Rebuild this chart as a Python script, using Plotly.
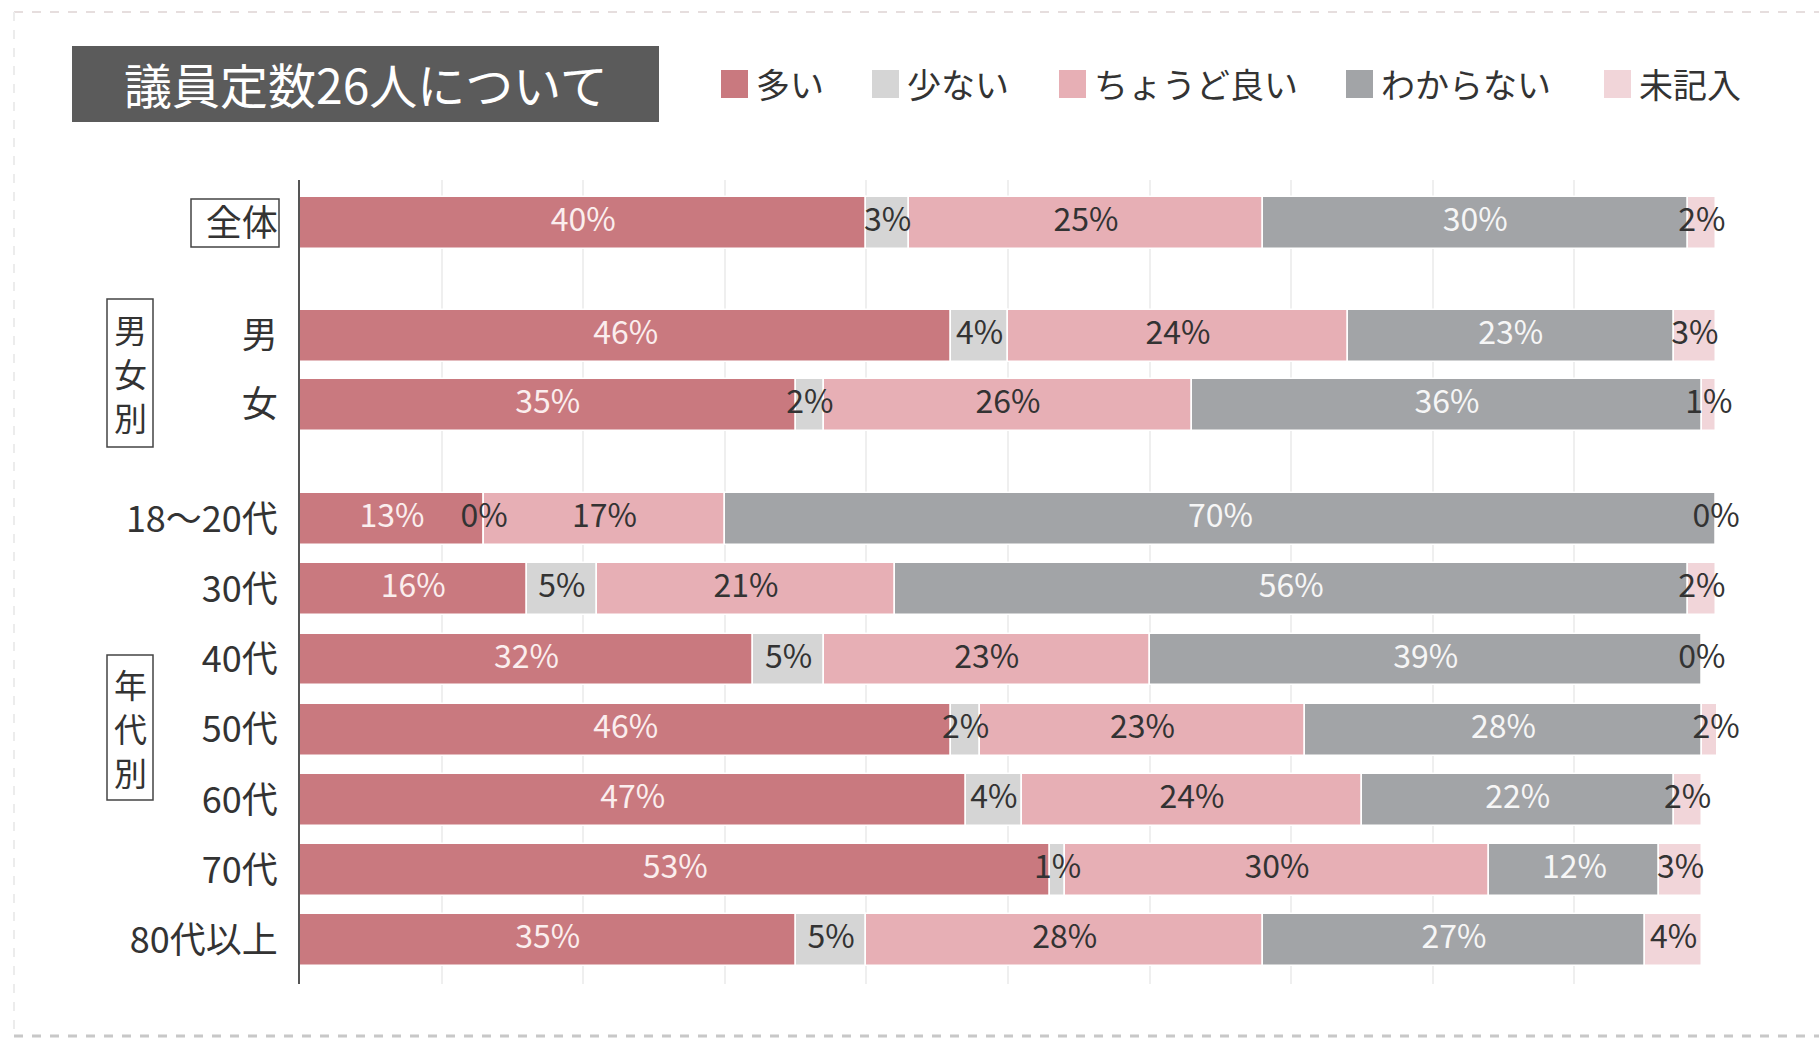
import numpy as np
import plotly.graph_objects as go

# ---------------- data ----------------
categories = ['全体', '男', '女', '18～20代', '30代', '40代', '50代', '60代', '70代', '80代以上']
series_names = ['多い', '少ない', 'ちょうど良い', 'わからない', '未記入']
v_ooi = [40, 46, 35, 13, 16, 32, 46, 47, 53, 35]
v_sukunai = [3, 4, 2, 0, 5, 5, 2, 4, 1, 5]
v_choudo = [25, 24, 26, 17, 21, 23, 23, 24, 30, 28]
v_wakaranai = [30, 23, 36, 70, 56, 39, 28, 22, 12, 27]
v_mikinyu = [2, 3, 1, 0, 2, 0, 2, 2, 3, 4]
title_text = '議員定数26人について'
group_gender = '男女別'
group_age = '年代別'

# ---------------- layout / style ----------------
W, H = 1819, 1041
L, R, T, B = 300, 1716, 180, 984  # plot area in px
row_pos = [0, 1.6, 2.58, 4.21, 5.21, 6.21, 7.21, 8.21, 9.21, 10.21]
colors = ['#c9797f', '#d5d5d5', '#e7afb5', '#a2a4a7', '#f1d5d9']
text_colors = ['#fbeeee', '#333333', '#333333', '#f6f6f6', '#333333']
FONT = 'Noto Sans CJK JP'


def px(x):
    return (x - L) / (R - L)


def py(y):
    return (B - y) / (B - T)


values = [v_ooi, v_sukunai, v_choudo, v_wakaranai, v_mikinyu]

fig = go.Figure()
base = np.zeros(len(categories))
for name, vals, col in zip(series_names, values, colors):
    fig.add_trace(go.Bar(
        y=row_pos, x=vals, base=base.copy(), orientation='h', name=name,
        marker=dict(color=col, line=dict(color='white', width=1.5)),
        width=0.74, showlegend=False, hovertemplate=name + ': %{x}%<extra></extra>'))
    base = base + np.array(vals)

base = np.zeros(len(categories))
for name, vals, tcol in zip(series_names, values, text_colors):
    arr = np.array(vals)
    fig.add_trace(go.Scatter(
        y=row_pos, x=base + arr / 2, mode='text',
        text=[f'{v}%' for v in vals], textposition='middle center',
        textfont=dict(family=FONT, size=32, color=tcol),
        cliponaxis=False, showlegend=False, hoverinfo='skip'))
    base = base + arr

shapes = []
annotations = []

# title box
shapes.append(dict(type='rect', xref='paper', yref='paper',
                   x0=px(72), x1=px(659), y0=py(122), y1=py(46),
                   fillcolor='#5b5b5b', line=dict(width=0), layer='below'))
annotations.append(dict(xref='paper', yref='paper', x=px(366), y=py(83),
                        text=title_text, showarrow=False,
                        font=dict(family=FONT, size=48, color='white'),
                        xanchor='center', yanchor='middle'))

# manual legend
leg_sq = [721, 872, 1059, 1346, 1604]
for name, col, x0 in zip(series_names, colors, leg_sq):
    shapes.append(dict(type='rect', xref='paper', yref='paper',
                       x0=px(x0), x1=px(x0 + 27), y0=py(98), y1=py(70),
                       fillcolor=col, line=dict(width=0)))
    annotations.append(dict(xref='paper', yref='paper', x=px(x0 + 33), y=py(83),
                            text=name, showarrow=False, xanchor='left', yanchor='middle',
                            font=dict(family=FONT, size=34, color='#333333')))

# box around 全体
shapes.append(dict(type='rect', xref='paper', yref='paper',
                   x0=px(191), x1=px(279), y0=py(247), y1=py(199),
                   line=dict(color='#444444', width=1.5)))

# group labels (vertical text in a box)
for txt, (top, bot) in [(group_gender, (299, 447)), (group_age, (655, 800))]:
    shapes.append(dict(type='rect', xref='paper', yref='paper',
                       x0=px(107), x1=px(153), y0=py(bot), y1=py(top),
                       line=dict(color='#444444', width=1.5)))
    yc = (top + bot) / 2
    step = 44
    for k, ch in enumerate(txt):
        annotations.append(dict(xref='paper', yref='paper', x=px(130),
                                y=py(yc + (k - 1) * step),
                                text=ch, showarrow=False,
                                xanchor='center', yanchor='middle',
                                font=dict(family=FONT, size=33, color='#333333')))

# scan-like dashed frame
for (x0, y0, x1, y1, c, w) in [(14, 12, 1819, 12, '#e6dede', 2),
                                (14, 12, 14, 1036, '#ececec', 2),
                                (14, 1036, 1819, 1036, '#c8c8c8', 3)]:
    shapes.append(dict(type='line', xref='paper', yref='paper',
                       x0=px(x0), x1=px(x1), y0=py(y0), y1=py(y1),
                       line=dict(color=c, width=w, dash='dash')))

fig.update_layout(
    width=W, height=H, autosize=False,
    margin=dict(l=L, r=W - R, t=T, b=H - B, pad=0),
    paper_bgcolor='white', plot_bgcolor='white',
    barmode='overlay', bargap=0,
    font=dict(family=FONT, color='#333333'),
    shapes=shapes, annotations=annotations,
    xaxis=dict(range=[0, 100], dtick=10, showgrid=True, gridcolor='#efefef',
               gridwidth=1.5, showticklabels=False, zeroline=False, showline=False,
               fixedrange=True),
    yaxis=dict(range=[10.83, -0.617], tickvals=row_pos, ticktext=categories,
               showgrid=False, zeroline=False, showline=True, linecolor='#555555',
               linewidth=2, ticks='', ticklabelstandoff=13,
               tickfont=dict(family=FONT, size=36, color='#333333'), fixedrange=True),
)

fig.write_html('out.html')
